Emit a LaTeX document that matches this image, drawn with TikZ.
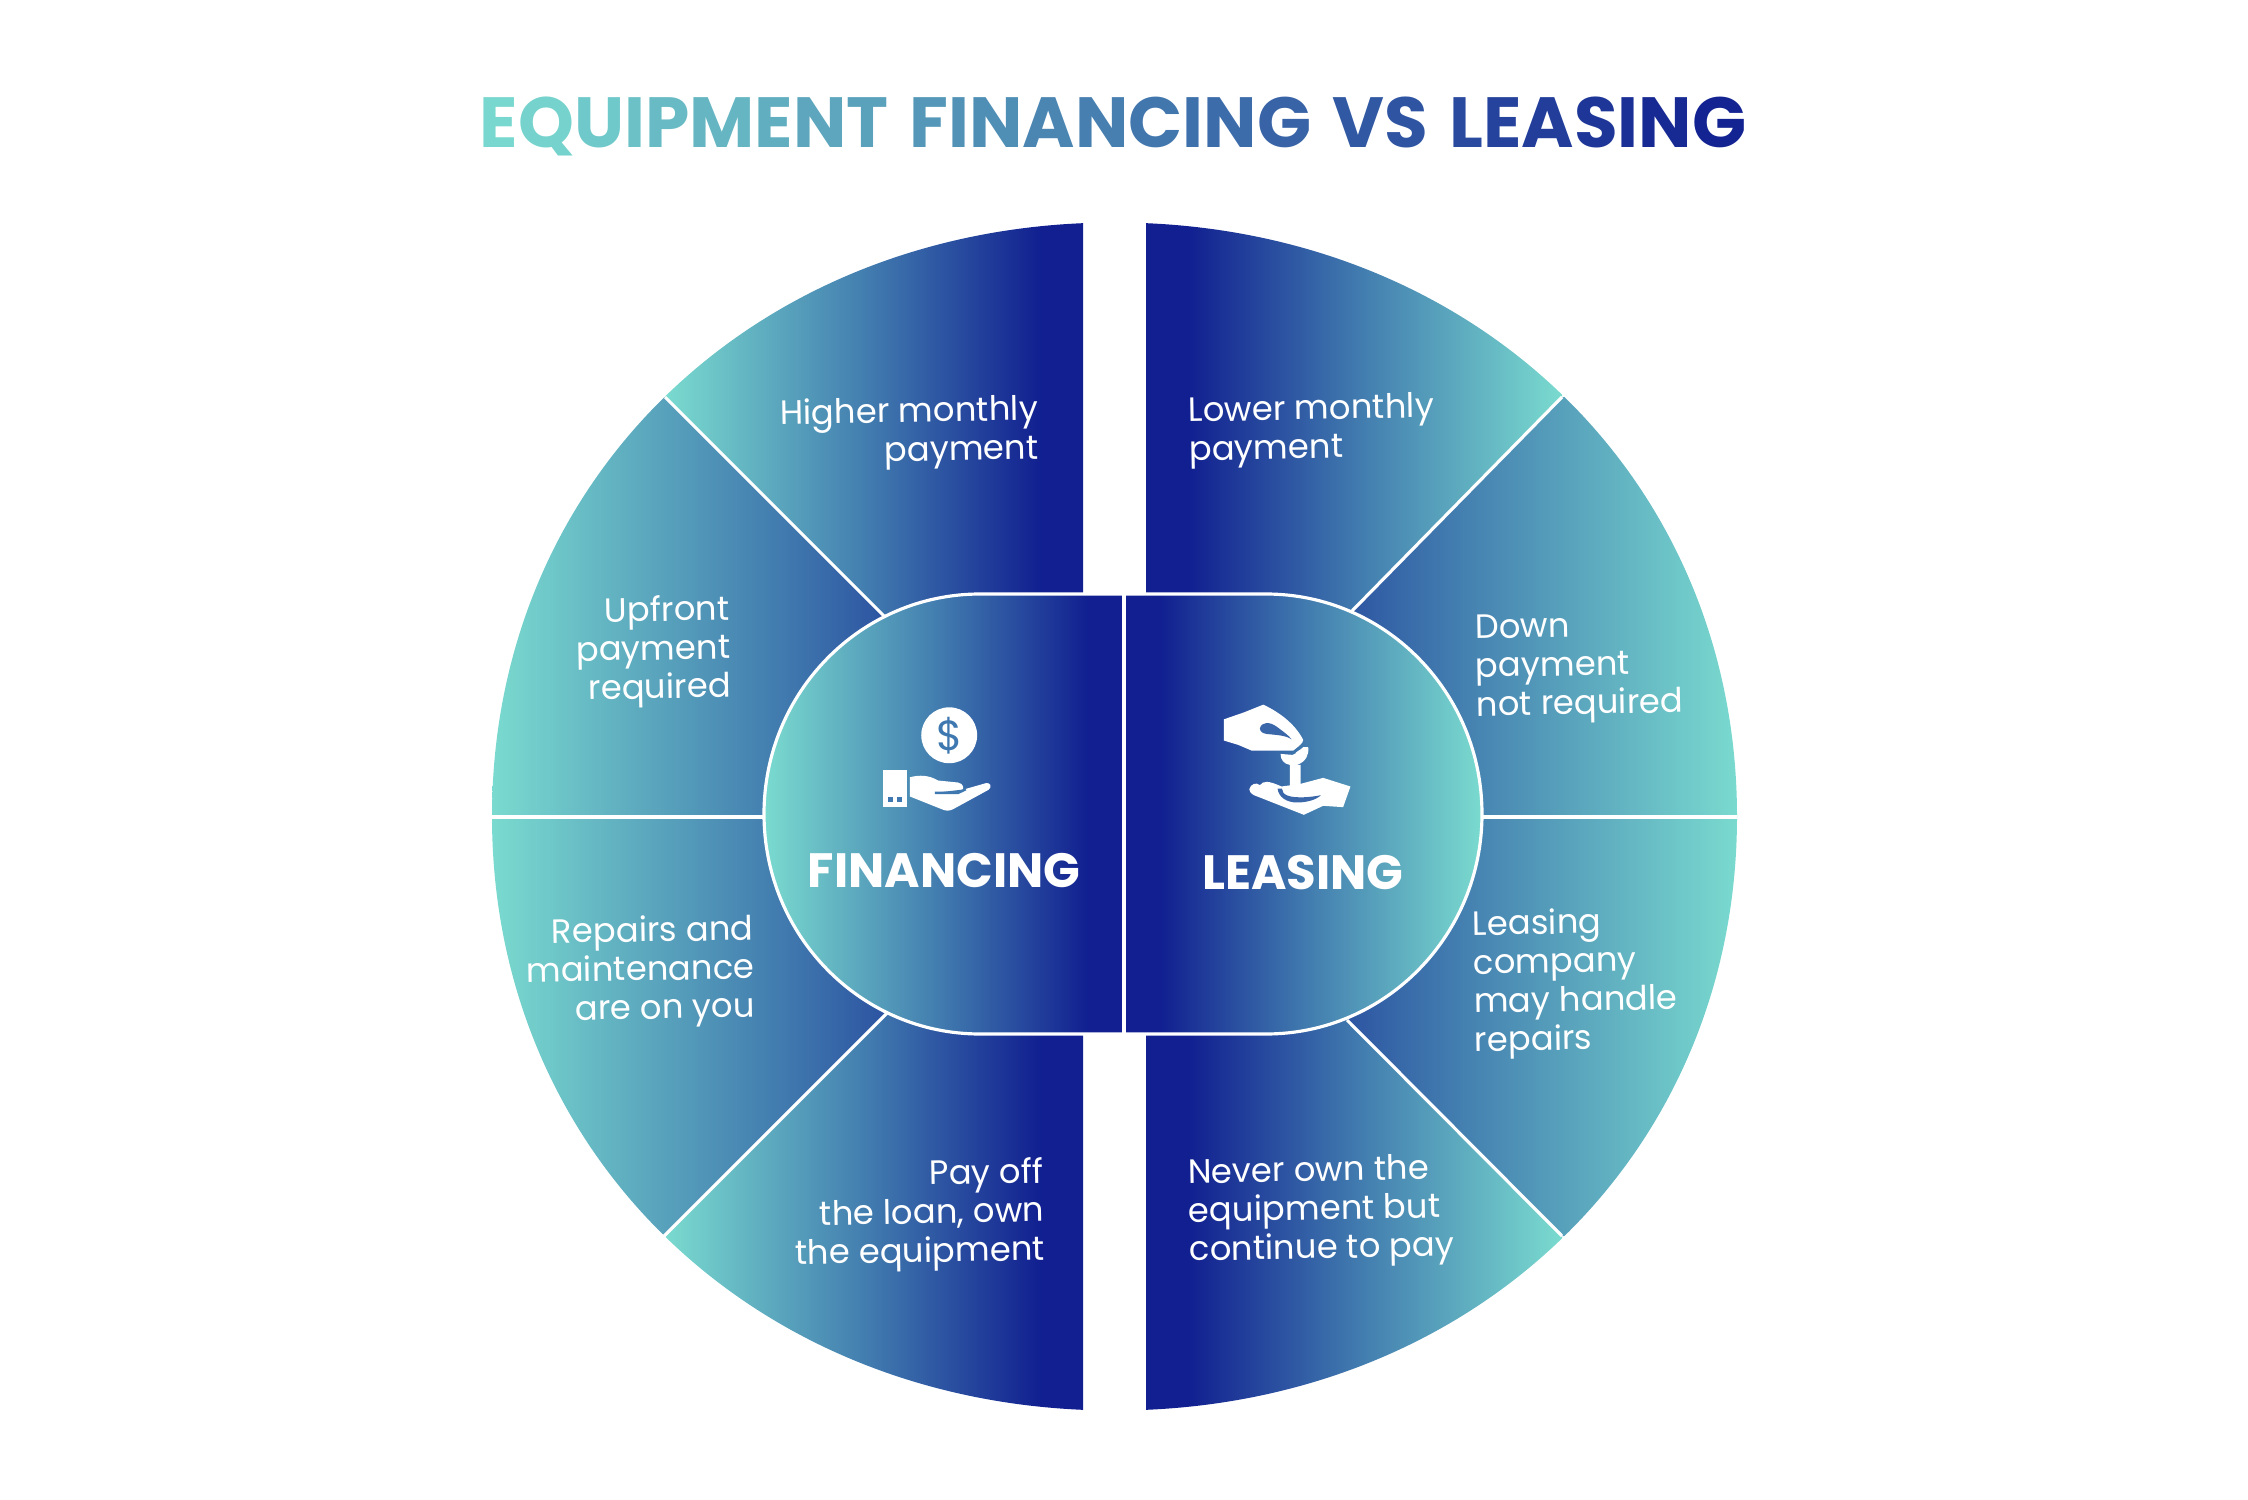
\documentclass[tikz,border=0pt]{standalone}
\usepackage{fontspec}
\setmainfont{Poppins}
\definecolor{tealc}{HTML}{7ADBCF}
\definecolor{midc}{HTML}{4079AE}
\definecolor{navyc}{HTML}{111F90}
\definecolor{iconl}{HTML}{3F78B0}
\definecolor{iconr}{HTML}{3A66AA}
\pgfdeclarehorizontalshading{gradL}{100bp}{color(0bp)=(tealc); color(25bp)=(tealc); color(50bp)=(midc); color(70bp)=(navyc); color(100bp)=(navyc)}
\pgfdeclarehorizontalshading{gradR}{100bp}{color(0bp)=(navyc); color(30bp)=(navyc); color(50bp)=(midc); color(75bp)=(tealc); color(100bp)=(tealc)}
\newcommand{\wordgap}{\hspace{0.3em}}
\tikzset{
	sideL/.style={shading=gradL},
	sideR/.style={shading=gradR},
	spoke/.style={draw=white, line width=0.9pt},
	body/.style={text=white, font=\fontsize{9.6}{11}\selectfont, rotate=1, inner sep=0pt},
	bodyL/.style={body, anchor=east, align=right},
	bodyR/.style={body, anchor=west, align=left},
	head/.style={text=white, font=\fontsize{13.7}{16}\selectfont\bfseries, inner sep=0pt},
	hole/.style={fill=iconl},
}
\begin{document}
\begin{tikzpicture}[x=0.01cm,y=-0.01cm]
	\useasboundingbox (0,0) rectangle (2248,1500);

	%title
	\node[font=\fontsize{20.2}{22}\selectfont\bfseries, inner sep=0pt] (title) at (1113,126) {\foreach \ch/\pct in {E/2,Q/5,U/10,I/14,P/17,M/20,E/24,N/28,T/31,\wordgap/34,F/36,I/39,N/41,A/45,N/49,C/53,I/57,N/59,G/63,\wordgap/66,V/69,S/72,\wordgap/75,L/77,E/81,A/84,S/88,I/91,N/94,G/98}{\textcolor{navyc!\pct!tealc}{\ch}}};

	%ends of the spokes
	\coordinate (tlout) at (665,397);	\coordinate (tlin) at (885,617);
	\coordinate (trout) at (1562,397);	\coordinate (trin) at (1351,612);
	\coordinate (blout) at (664,1236);	\coordinate (blin) at (887,1013);
	\coordinate (brout) at (1562,1236);	\coordinate (brin) at (1347,1020);
	\coordinate (mlout) at (492,817);	\coordinate (mlin) at (770,817);
	\coordinate (mrout) at (1737,817);	\coordinate (mrin) at (1476,817);

	%sectors
	\begin{scope}
		\clip (1114.5,222.5) .. controls (1470.5,222.5) and (1737,476.5) .. (1737,816.5) .. controls (1737,1156.5) and (1470.5,1410.5) .. (1114.5,1410.5) .. controls (758.5,1410.5) and (492,1156.5) .. (492,816.5) .. controls (492,476.5) and (758.5,222.5) .. (1114.5,222.5) -- cycle;
		\shade[sideL] (tlout) -- (665,200) -- (1083,200) -- (1083,620) -- (tlin) -- cycle;
		\shade[sideL] (tlout) -- (490,397) -- (490,817) -- (1083,817) -- (1083,620) -- (tlin) -- cycle;
		\shade[sideL] (490,817) -- (490,1236) -- (blout) -- (blin) -- (1083,1010) -- (1083,817) -- cycle;
		\shade[sideL] (blout) -- (664,1430) -- (1083,1430) -- (1083,1010) -- (blin) -- cycle;
		\shade[sideR] (trout) -- (1562,200) -- (1146,200) -- (1146,620) -- (trin) -- cycle;
		\shade[sideR] (trout) -- (1740,397) -- (1740,817) -- (1146,817) -- (1146,620) -- (trin) -- cycle;
		\shade[sideR] (1740,817) -- (1740,1236) -- (brout) -- (brin) -- (1146,1010) -- (1146,817) -- cycle;
		\shade[sideR] (brout) -- (1562,1430) -- (1146,1430) -- (1146,1010) -- (brin) -- cycle;
	\end{scope}

	%spokes
	\draw[spoke] (tlout) -- (tlin);
	\draw[spoke] (trout) -- (trin);
	\draw[spoke] (blout) -- (blin);
	\draw[spoke] (brout) -- (brin);
	\draw[spoke] (mlout) -- (mlin);
	\draw[spoke] (mrout) -- (mrin);

	%centre
	\shade[sideL] (1124,594) -- (980,594) arc [start angle=270,end angle=90,x radius=216,y radius=220] -- (1124,1034) -- cycle;
	\shade[sideR] (1124,594) -- (1266,594) arc [start angle=-90,end angle=90,x radius=216,y radius=220] -- (1124,1034) -- cycle;
	\draw[spoke] (1124,594) -- (980,594) arc [start angle=270,end angle=90,x radius=216,y radius=220] -- (1266,1034) arc [start angle=90,end angle=-90,x radius=216,y radius=220] -- cycle;
	\draw[draw=white, line width=1pt] (1124,594) -- (1124,1034);

	%texts
	\node[bodyL] (higher) at (1039,431) {Higher monthly\\payment};
	\node[bodyL] (upfront) at (731,650) {Upfront\\payment\\required};
	\node[bodyL] (repairs) at (755,970) {Repairs and\\maintenance\\are on you};
	\node[bodyL] (payoff) at (1045,1213) {Pay off\\the loan, own\\the equipment};
	\node[bodyR] (lower) at (1188,433) {Lower monthly\\payment};
	\node[bodyR] (down) at (1475,670) {Down\\payment\\not required};
	\node[bodyR] (company) at (1473,985) {Leasing\\company\\may handle\\repairs};
	\node[bodyR] (never) at (1188,1214) {Never own the\\equipment but\\continue to pay};
	\node[head] (fin) at (944,871) {FINANCING};
	\node[head] (lease) at (1303,873) {LEASING};

	%coin and hand
	\begin{scope}[shift={(860,690)},x=0.00333cm,y=-0.00333cm]
		\fill[white] (268,136) circle [radius=84];
		\node[text=iconl, font=\fontsize{12}{14}\selectfont, inner sep=0pt] (dollar) at (268,137) {\$};
		\fill[white] (68,240) rectangle (140,352);
		\fill[iconl] (85,323) rectangle (98,338);
		\fill[iconl] (111,323) rectangle (125,338);
		\fill[white] (150,262) .. controls (180,255) and (205,255) .. (235,272) -- (295,278) .. controls (312,282) and (312,296) .. (308,300) -- (378,280) .. controls (392,276) and (398,292) .. (386,300) -- (280,358) .. controls (268,364) and (258,364) .. (245,358) -- (150,320) -- cycle;
		\draw[hole, draw=iconl, line width=0.7pt] (225,309) -- (295,309) -- (318,298);
	\end{scope}

	%hands and sprout
	\begin{scope}[shift={(1210,690)},x=0.00333cm,y=-0.00333cm]
		\fill[white] (42,88) -- (100,68) -- (160,44) .. controls (205,65) and (255,100) .. (280,150) .. controls (280,160) and (265,170) .. (250,182) -- (125,182) -- (85,165) -- (42,152) -- cycle;
		\fill[iconr] (150,115) .. controls (155,95) and (180,95) .. (200,110) .. controls (220,125) and (235,135) .. (245,148) .. controls (225,135) and (195,135) .. (170,132) .. controls (158,130) and (150,125) .. (150,115) -- cycle;
		\fill[white] (212,192) -- (248,195) -- (262,188) -- (262,225) -- (272,225) -- (272,290) -- (240,290) -- (240,225) .. controls (222,222) and (212,210) .. (212,192) -- cycle;
		\fill[white] (258,188) .. controls (268,180) and (275,178) .. (280,172) -- (295,172) .. controls (298,195) and (288,215) .. (262,225) -- cycle;
		\fill[white] (118,298) .. controls (122,282) and (140,276) .. (150,286) .. controls (160,272) and (175,272) .. (215,290) -- (272,282) -- (340,264) -- (422,290) -- (400,352) -- (340,348) -- (282,375) -- (132,316) .. controls (122,310) and (118,305) .. (118,298) -- cycle;
		\fill[iconr] (203,296) .. controls (206,322) and (230,338) .. (262,338) .. controls (290,338) and (320,330) .. (333,316) .. controls (305,322) and (260,326) .. (235,318) .. controls (222,314) and (216,306) .. (216,296) -- cycle;
	\end{scope}
\end{tikzpicture}
\end{document}
